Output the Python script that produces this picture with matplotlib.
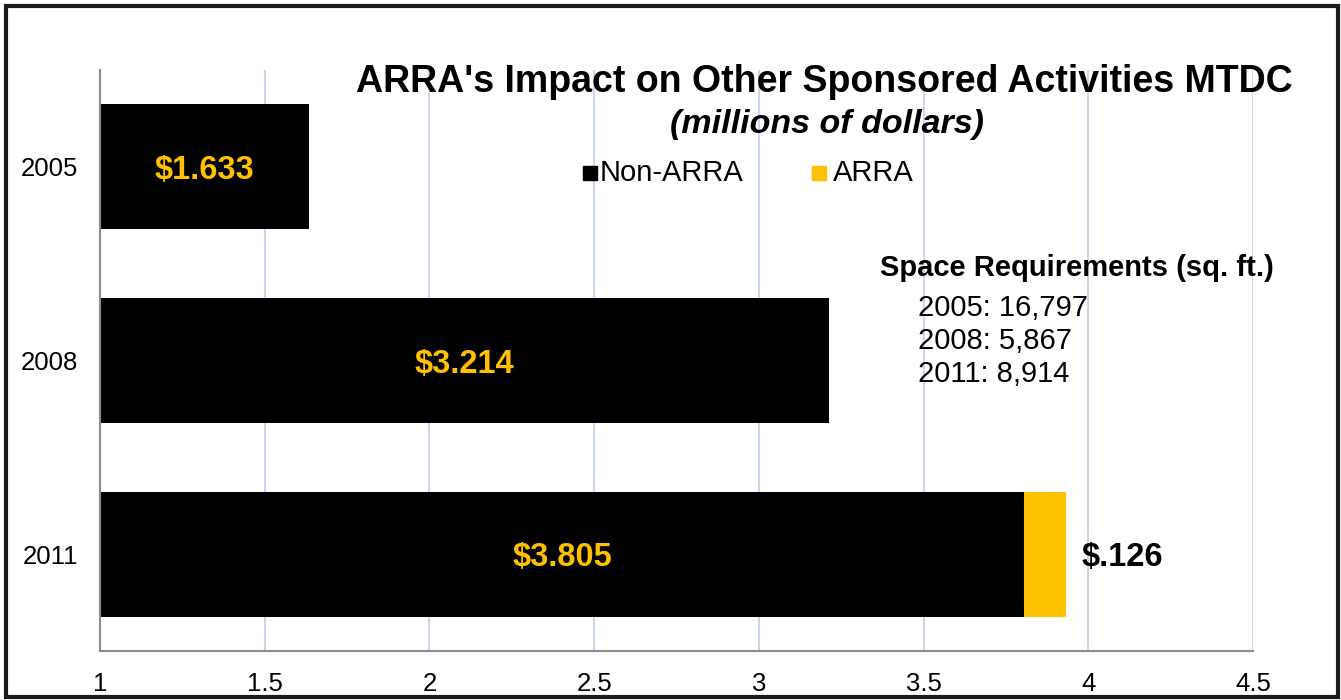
import matplotlib.pyplot as plt
from matplotlib.patches import Rectangle

plt.rcParams['font.family'] = ['Liberation Sans', 'DejaVu Sans']

years = ['2005', '2008', '2011']
non_arra = [1.633, 3.214, 3.805]
arra = [0, 0, 0.126]
non_arra_labels = ['$1.633', '$3.214', '$3.805']
arra_label = '$.126'
space_years = ['2005', '2008', '2011']
space_sqft = ['16,797', '5,867', '8,914']
xticks = [1, 1.5, 2, 2.5, 3, 3.5, 4, 4.5]

W, H = 1341, 700
fig = plt.figure(figsize=(W / 100, H / 100), dpi=100)
ax = fig.add_axes([100 / W, 1 - 651 / H, (1253 - 100) / W, (651 - 70) / H])

gold = '#FFC000'
pos = list(range(len(years)))
bh = 0.645
ax.barh(pos, [v - 1 for v in non_arra], left=1, height=bh, color='black', label='Non-ARRA')
ax.barh(pos, arra, left=non_arra, height=bh, color=gold, label='ARRA')

ax.set_xlim(1, 4.5)
ax.set_ylim(2.5, -0.5)
ax.set_xticks(xticks)
ax.set_xticklabels([f'{t:g}' for t in xticks])
ax.set_yticks(pos)
ax.set_yticklabels(years)
ax.tick_params(length=0, labelsize=18.5)
ax.tick_params(axis='x', pad=15)
ax.tick_params(axis='y', pad=16)

ax.grid(axis='x', color='#CCD7EE', lw=1.5)
ax.set_axisbelow(True)
for s in ['top', 'right']:
    ax.spines[s].set_visible(False)
for s in ['left', 'bottom']:
    ax.spines[s].set_color('#8C8C8C')
    ax.spines[s].set_linewidth(1.5)

for i, (v, lab) in enumerate(zip(non_arra, non_arra_labels)):
    ax.text((1 + v) / 2, i, lab, color=gold, fontsize=23.5, fontweight='bold',
            ha='center', va='center_baseline')
ax.text(non_arra[2] + arra[2] + 0.05, 2, arra_label, color='black', fontsize=23.5,
        fontweight='bold', ha='left', va='center_baseline')

def fx(px):
    return px / W

def fy(py):
    return 1 - py / H

fig.text(fx(824), fy(82), "ARRA's Impact on Other Sponsored Activities MTDC",
         fontsize=27, fontweight='bold', ha='center', va='center')
fig.text(fx(827), fy(125), '(millions of dollars)', fontsize=24.5, fontweight='bold',
         fontstyle='italic', ha='center', va='center')

# legend
for x0, c in [(583, 'black'), (812, gold)]:
    fig.patches.append(Rectangle((fx(x0), fy(180)), 14 / W, 14 / H,
                                 transform=fig.transFigure, color=c))
fig.text(fx(600), fy(173), 'Non-ARRA', fontsize=21, ha='left', va='center')
fig.text(fx(833), fy(173), 'ARRA', fontsize=21, ha='left', va='center')

fig.text(fx(880), fy(268), 'Space Requirements (sq. ft.)', fontsize=21,
         fontweight='bold', ha='left', va='center')
for k, (yr, sq) in enumerate(zip(space_years, space_sqft)):
    fig.text(fx(918), fy(308 + 33 * k), f'{yr}: {sq}', fontsize=21,
             ha='left', va='center')

fig.patches.append(Rectangle((fx(6), fy(697)), fx(1332), (697 - 6) / H,
                             transform=fig.transFigure, fill=False,
                             edgecolor='#1a1a1a', lw=3))

fig.savefig('out.png', dpi=100)
